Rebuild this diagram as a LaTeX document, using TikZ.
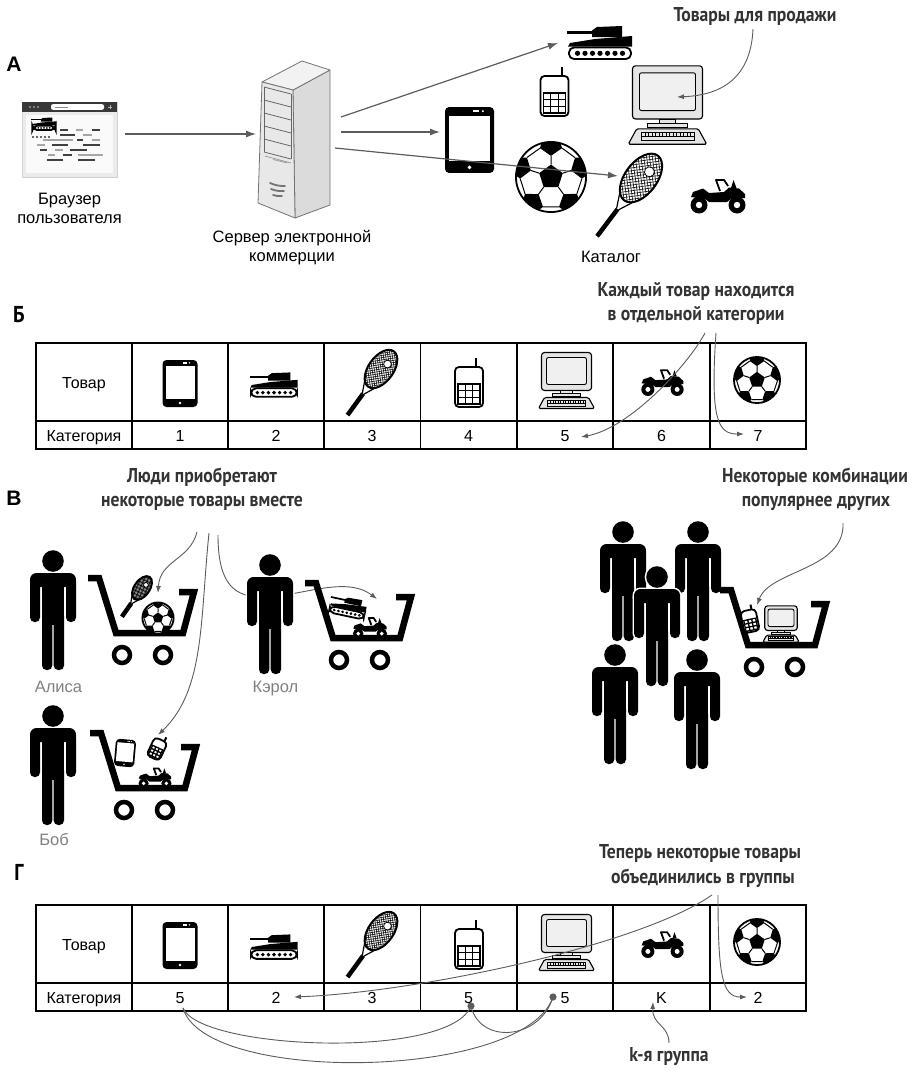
\documentclass[tikz,border=0pt]{standalone}
\usepackage{fontspec}
\setmainfont{Liberation Sans}
\newfontfamily\callfont[FakeStretch=0.88]{PT Sans}
\usetikzlibrary{arrows.meta}

\definecolor{ink}{HTML}{333333}
\definecolor{wire}{HTML}{5C5C5C}
\definecolor{namegray}{HTML}{808080}

% silhouette of a standing figure, origin at the head centre
\newcommand\figparts[1]{%
  \path[#1] (0,0) circle (10.8);
  \path[#1,rounded corners=6.5] (-23,12) rectangle (23,26);
  \path[#1,rounded corners=4.5] (-23,16) rectangle (-13,61);
  \path[#1,rounded corners=4.5] (13,16) rectangle (23,61);
  \path[#1] (-11,16) rectangle (11,64);
  \path[#1,rounded corners=4.5] (-11,50) rectangle (-0.7,109);
  \path[#1,rounded corners=4.5] (0.7,50) rectangle (11,109);
}

% product table: #1 name prefix, #2..#8 category values
\newcommand\itemtable[8]{%
  \draw[tablerule] (36,0) rectangle (806,106);
  \draw[tablerule] (36,78) -- (806,78);
  \foreach \x in {132,228,324,420.5,517,613,710} \draw[tablerule] (\x,0) -- (\x,106);
  \node[cell] (#1-head) at (84,45) {Товар};
  \node[cell] (#1-cat) at (84,98) {Категория};
  \node[cell] (#1-c1) at (180,98) {#2};
  \node[cell] (#1-c2) at (276,98) {#3};
  \node[cell] (#1-c3) at (372,98) {#4};
  \node[cell] (#1-c4) at (468.5,98) {#5};
  \node[cell] (#1-c5) at (565,98) {#6};
  \node[cell] (#1-c6) at (661.5,98) {#7};
  \node[cell] (#1-c7) at (758,98) {#8};
  \pic (#1-tablet) at (180,40.5) {tabletico};
  \pic[scale=0.74] (#1-tank) at (274,42) {tankico};
  \pic[scale=0.78,rotate=-36] (#1-racket) at (381,26) {racketico};
  \pic (#1-phone) at (469,44) {phoneico};
  \pic (#1-comp) at (566.5,37.5) {compico};
  \pic[scale=0.77] (#1-atv) at (662.5,39.5) {atvico};
  \pic[scale=0.96] (#1-ball) at (757,37) {ballico};
}

\tikzset{
  flowarrow/.style={draw=wire, line width=1.2pt, -{Latex[length=10pt,width=7pt]}},
  callarrow/.style={draw=wire, line width=0.9pt, -{Latex[length=7pt,width=5pt]}},
  groupline/.style={draw=wire, line width=0.9pt},
  calltext/.style={font=\callfont\bfseries\fontsize{20}{24}\selectfont, text=ink, anchor=base, inner sep=0pt},
  lbl/.style={font=\fontsize{16.5}{19}\selectfont, anchor=base, inner sep=0pt},
  namelbl/.style={lbl, text=namegray},
  cell/.style={font=\fontsize{16}{19}\selectfont, anchor=base, inner sep=0pt},
  seclet/.style={font=\bfseries\fontsize{21}{24}\selectfont, inner sep=0pt},
  seclettwo/.style={font=\callfont\bfseries\fontsize{23}{26}\selectfont, inner sep=0pt},
  tablerule/.style={line width=1.4pt},
  person/.pic={\figparts{draw=white,line width=3,fill=white}\figparts{fill=black}},
  cartico/.pic={
    \draw[line width=6.5, line join=miter] (0,0) -- (11,0) -- (28,55) -- (95,55) -- (106,14) -- (91,14);
    \draw[line width=4.5] (34,77) circle (8) (75,77) circle (8);
  },
  tabletico/.pic={
    \fill[rounded corners=4] (-17.5,-23.5) rectangle (17.5,23.5);
    \fill[white] (-14.5,-17.5) rectangle (14.5,15);
    \fill[white] (0,19.5) circle (1.4);
    \fill[white] (2.5,-21.2) rectangle (7,-20);
    \fill[white] (9.5,-20.6) circle (0.8);
  },
  tankico/.pic={
    \fill (-33,-12.5) rectangle (-6,-9.5);
    \fill (-8,-6) -- (-8,-12.5) -- (-3,-16) -- (22,-17) -- (22,-6) -- cycle;
    \fill (-32,3.5) -- (-30,0) -- (-5,-4) -- (32,-7) -- (32,3.5) -- cycle;
    \draw[line width=1.8, fill=white, rounded corners=5] (-31,4.5) rectangle (31,16);
    \foreach \i in {0,...,6} \fill (-22.5+7.5*\i,10.3) circle (2.6);
  },
  phoneico/.pic={
    \draw[line width=2] (7,-20) -- (7,-29);
    \draw[line width=1.8, fill=white, rounded corners=4] (-14,-20) rectangle (14,20);
    \draw[line width=1.3] (-11,-3) rectangle (11,17)
      (-3.67,-3) -- (-3.67,17) (3.67,-3) -- (3.67,17)
      (-11,3.67) -- (11,3.67) (-11,10.33) -- (11,10.33);
  },
  compico/.pic={
    \draw[line width=1.1, fill=black!10, rounded corners=3] (-25,-28) rectangle (25,10);
    \draw[line width=0.9, fill=black!6, rounded corners=2] (-20,-23) rectangle (20,4);
    \draw[line width=0.9, fill=black!10] (-6,10) rectangle (6,13);
    \draw[line width=0.9, fill=black!10] (-14,13) rectangle (14,16);
    \draw[line width=1.1, fill=black!10, rounded corners=1.5] (-22,17) -- (22,17) -- (28,28) -- (-28,28) -- cycle;
    \draw[line width=0.8] (-19,19.5) rectangle (19,25.5);
    \draw[line width=0.6] (-19,22.5) -- (19,22.5);
    \foreach \x in {-16,-13.5,...,17} \draw[line width=0.6] (\x,19.5) -- (\x,22.5);
  },
  atvico/.pic={
    \fill (-27,1) -- (-25,-4) -- (-15,-7.5) -- (-9,-3) -- (6,-4) -- (11,-8.5) -- (21,-7.5) -- (27,-2)
      -- (27,2) -- (13,3) -- (9,6) -- (-9,6) -- (-13,3) -- cycle;
    \fill (-19,9) circle (8.5) (19,9) circle (8.5);
    \fill[white] (-19,9) circle (3.2) (19,9) circle (3.2);
    \draw[line width=1.8, line join=round] (2,-5) -- (-2,-16) -- (6,-16) -- (10,-10);
    \fill (13,-8) -- (15.5,-16) -- (18.5,-8) -- cycle;
  },
  ballico/.pic={
    \fill[white] (0,0) circle (24);
    \begin{scope}
      \clip (0,0) circle (24);
      \fill (-90:8.5) -- (-18:8.5) -- (54:8.5) -- (126:8.5) -- (198:8.5) -- cycle;
      \foreach \k in {0,...,4}{
        \begin{scope}[rotate=72*\k]
          \fill (0,-14.5) -- (7.6,-19.8) -- (4.7,-28.8) -- (-4.7,-28.8) -- (-7.6,-19.8) -- cycle;
          \draw[line width=1] (0,-8.5) -- (0,-14.5) (7.6,-19.8) -- (16.4,-13.3);
        \end{scope}}
    \end{scope}
    \draw[line width=1.8] (0,0) circle (24);
  },
  racketico/.pic={
    \begin{scope}
      \clip (0,0) ellipse (16 and 28);
      \foreach \i in {-52,-48,...,52}{
        \draw[line width=0.55] (\i-32,-32) -- (\i+32,32);
        \draw[line width=0.55] (\i+32,-32) -- (\i-32,32);}
    \end{scope}
    \draw[line width=0.8, fill=white] (3,-10) circle (5);
    \draw[line width=2] (0,0) ellipse (16 and 28);
    \draw[line width=1.2] (-9,22.5) -- (-1.2,39) (9,22.5) -- (1.2,39);
    \draw[line width=4.5] (0,39) -- (0,73);
  },
}

\begin{document}
\begin{tikzpicture}[x=1pt,y=-1pt]
\useasboundingbox (0,0) rectangle (908,1071);

% ================= A: browser, server and catalogue
\node[seclet] (secA) at (14,64) {А};

% browser window
\filldraw[fill=black!8, draw=black!18, line width=0.6] (22,102) rectangle (117,177);
\fill[black!2] (26,115) rectangle (113,173);
\fill[black!78] (22,102) rectangle (117,112);
\fill[white, rounded corners=2] (51,104.2) rectangle (104,109.8);
\draw[black!45, line width=0.7] (55,107) -- (68,107);
\fill[black!40] (30,107) circle (1.2) (34,107) circle (1.2) (38,107) circle (1.2);
\draw[black!30, line width=0.8] (108,107) -- (112,107) (110,105) -- (110,109);
\pic[scale=0.38] (brtank) at (44,124) {tankico};
\foreach \x in {33,37,41,45,49} \fill[black!80] (\x,137) circle (1.2);
\foreach \y/\a/\b/\s in {130/60/68/75, 130/76/83/35, 130/92/100/75,
  135/60/75/75, 135/83/92/35,
  140/43/73/35, 140/77/83/75, 140/92/100/35,
  145/37/45/35, 145/52/68/75, 145/83/100/75,
  150/40/47/75, 150/55/63/35, 150/70/87/75,
  155/48/55/35, 155/63/72/75, 155/78/103/35,
  160/47/63/75, 160/78/95/75}
  \draw[black!\s, line width=1.7] (\a,\y) -- (\b,\y);
\node[lbl] (brCap1) at (69.5,204) {Браузер};
\node[lbl] (brCap2) at (69.5,223) {пользователя};

% server tower
\filldraw[fill=black!14, draw=black!55, line width=0.8, line join=round] (293,90) -- (330,70) -- (330,205) -- (295,218) -- cycle;
\filldraw[fill=black!5, draw=black!55, line width=0.8, line join=round] (262,82) -- (302,61) -- (330,70) -- (293,90) -- cycle;
\filldraw[fill=black!9, draw=black!55, line width=0.8, line join=round] (262,82) -- (293,90) -- (295,218) -- (258,203) -- cycle;
\draw[black!60, line width=0.8] (264,87) -- (264,152) (291,94) -- (291,159);
\foreach \y in {87,100,113,126,139,152} \draw[black!60, line width=0.8] (264,\y) -- (291,\y+7);
\draw[black!45, line width=0.6] (265,156) -- (291,163) (273,159.5) -- (287,163);
\draw[black!55, line width=1.8, line cap=round] (270,183) to[bend right=12] (285,186);
\draw[black!55, line width=1.8, line cap=round] (271,189) to[bend right=12] (284,191);
\draw[black!55, line width=1.8, line cap=round] (273,195) to[bend right=12] (282,196);
\node[lbl] (srvCap1) at (292,242) {Сервер электронной};
\node[lbl] (srvCap2) at (292,261) {коммерции};

% catalogue of goods
\pic (catTank) at (600,43) {tankico};
\pic (catPhone) at (554.5,96) {phoneico};
\pic[scale=1.4] (catComp) at (667.5,105) {compico};
\pic[scale=1.4] (catTablet) at (469.5,140) {tabletico};
\pic[scale=1.46] (catBall) at (551,177) {ballico};
\pic[rotate=-37] (catRacket) at (641,178) {racketico};
\pic (catAtv) at (718,196) {atvico};
\node[lbl] (catCap) at (611,262) {Каталог};

\coordinate (brOut) at (125,134);
\coordinate (srvIn) at (256,134);
\coordinate (srvOutA) at (341,117);
\coordinate (srvOutB) at (341,132);
\coordinate (srvOutC) at (335,148);
\coordinate (tankIn) at (558,43);
\coordinate (tabletIn) at (440,132);
\coordinate (racketIn) at (618,176);
\draw[flowarrow] (brOut) -- (srvIn);
\draw[flowarrow] (srvOutA) -- (tankIn);
\draw[flowarrow] (srvOutB) -- (tabletIn);
\draw[flowarrow] (srvOutC) -- (racketIn);

\node[calltext] (noteSale) at (755,21) {Товары для продажи};
\coordinate (saleFrom) at (753,29);
\coordinate (saleTo) at (677,97);
\draw[callarrow] (saleFrom) .. controls (751,75) and (725,95) .. (saleTo);

% ================= Б: one category per product
\node[seclettwo] (secB) at (19,315) {Б};
\node[calltext] (noteEach1) at (696,296) {Каждый товар находится};
\node[calltext] (noteEach2) at (696,320) {в отдельной категории};
\begin{scope}[shift={(0,343)}]
  \itemtable{b}{1}{2}{3}{4}{5}{6}{7}
\end{scope}
\coordinate (eachFromA) at (705,333);
\coordinate (eachFromB) at (716,333);
\coordinate (eachToA) at (581,437);
\coordinate (eachToB) at (744,434);
\draw[callarrow] (eachFromA) .. controls (688,365) and (630,428) .. (eachToA);
\draw[callarrow] (eachFromB) .. controls (710,420) and (718,434) .. (eachToB);

% ================= В: shoppers and their carts
\node[seclet] (secC) at (14,498) {В};
\node[calltext] (noteBuy1) at (202,482) {Люди приобретают};
\node[calltext] (noteBuy2) at (202,506) {некоторые товары вместе};
\coordinate (buyFromA) at (197,532);
\coordinate (buyFromB) at (209,533);
\coordinate (buyFromC) at (218,535);
\coordinate (buyToA) at (158,593);
\coordinate (buyToB) at (158,735);
\coordinate (buyMidC) at (262,597);
\coordinate (buyToC) at (377,599);
\draw[callarrow] (buyFromA) .. controls (190,560) and (160,560) .. (buyToA);
\draw[callarrow] (buyFromB) .. controls (200,620) and (205,690) .. (buyToB);
\draw[callarrow] (buyFromC) .. controls (218,585) and (235,597) .. (buyMidC)
  .. controls (300,597) and (345,575) .. (buyToC);

% Alice
\pic (alice) at (53,561) {person};
\pic (aliceCart) at (88,578) {cartico};
\pic[scale=0.48,rotate=-35] (aliceRacket) at (142,588) {racketico};
\pic[scale=0.65] (aliceBall) at (158,618) {ballico};
\node[namelbl] (aliceName) at (58.5,692) {Алиса};

% Carol
\pic (carol) at (270,565) {person};
\pic (carolCart) at (305,583) {cartico};
\pic[scale=0.57,rotate=-12] (carolTank) at (348,607) {tankico};
\pic[scale=0.62] (carolAtv) at (370,628) {atvico};
\node[namelbl] (carolName) at (275.5,692) {Кэрол};

% Bob
\pic (bob) at (53,716) {person};
\pic (bobCart) at (90,733) {cartico};
\pic[scale=0.58,rotate=-5] (bobTablet) at (125,753) {tabletico};
\pic[scale=0.5,rotate=-25] (bobPhone) at (157,749) {phoneico};
\pic[scale=0.6] (bobAtv) at (155,778) {atvico};
\node[namelbl] (bobName) at (54,845) {Боб};

% the crowd
\node[calltext] (notePop1) at (815,482) {Некоторые комбинации};
\node[calltext] (notePop2) at (816,506) {популярнее других};
\pic (crowdA) at (623,532) {person};
\pic (crowdB) at (698,532) {person};
\pic (crowdCart) at (720,590) {cartico};
\pic[scale=0.55,rotate=12] (crowdPhone) at (750,621) {phoneico};
\pic[scale=0.65] (crowdComp) at (781,624) {compico};
\pic (crowdC) at (657,577) {person};
\pic (crowdD) at (615,655) {person};
\pic (crowdE) at (697,660) {person};
\coordinate (popFrom) at (843,523);
\coordinate (popTo) at (757,605);
\draw[callarrow] (popFrom) .. controls (845,570) and (770,570) .. (popTo);

% ================= Г: categories after grouping
\node[seclettwo] (secD) at (19,872) {Г};
\node[calltext] (noteGroup1) at (700,858) {Теперь некоторые товары};
\node[calltext] (noteGroup2) at (703,883) {объединились в группы};
\begin{scope}[shift={(0,905)}]
  \itemtable{g}{5}{2}{3}{5}{5}{K}{2}
\end{scope}
\coordinate (groupFromA) at (712,895);
\coordinate (groupFromB) at (718,895);
\coordinate (groupToA) at (294,997);
\coordinate (groupToB) at (747,997);
\draw[callarrow] (groupFromA) .. controls (640,945) and (420,992) .. (groupToA);
\draw[callarrow] (groupFromB) .. controls (718,975) and (722,997) .. (groupToB);

\coordinate (firstFive) at (183,1008);
\coordinate (dotA) at (471,1006);
\coordinate (dotB) at (553,997);
\draw[groupline] (firstFive) .. controls (200,1050) and (450,1060) .. (dotA);
\draw[groupline] (firstFive) .. controls (205,1085) and (525,1080) .. (dotB);
\draw[groupline] (dotA) .. controls (480,1045) and (540,1040) .. (dotB);
\fill[wire] (dotA) circle (3.6) (dotB) circle (3.6);

\node[calltext] (noteK) at (669,1061) {k-я группа};
\coordinate (kFrom) at (669,1043);
\coordinate (kTo) at (653,1002);
\draw[callarrow] (kFrom) .. controls (669,1025) and (652,1025) .. (kTo);

\end{tikzpicture}
\end{document}
